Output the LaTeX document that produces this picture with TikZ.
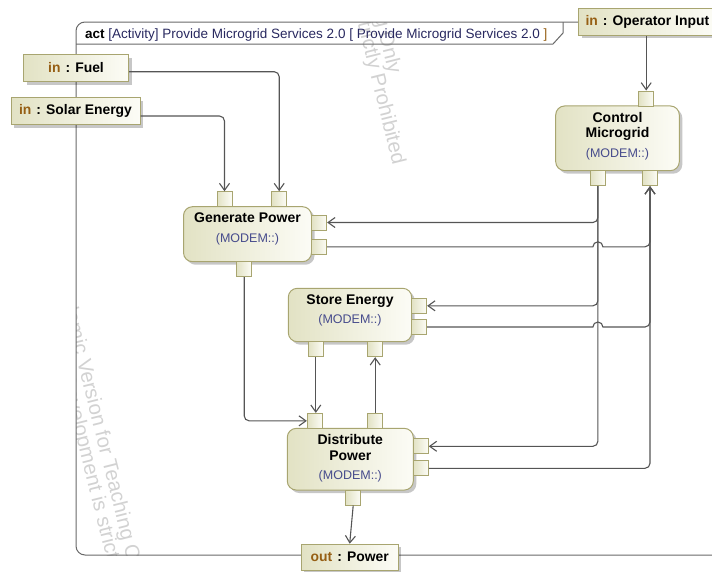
\documentclass[tikz,border=0pt]{standalone}
\usepackage{fontspec}
\setmainfont{Liberation Sans}
\usetikzlibrary{arrows.meta,shadows,calc}
\definecolor{actL}{RGB}{226,226,196}
\definecolor{actR}{RGB}{252,252,246}
\definecolor{actB}{RGB}{168,165,112}
\definecolor{lineC}{RGB}{85,85,85}
\definecolor{frameC}{RGB}{105,105,105}
\definecolor{modemC}{RGB}{70,75,140}
\definecolor{inC}{RGB}{150,95,20}
\definecolor{titleC}{RGB}{40,40,95}
\definecolor{wmC}{RGB}{210,210,210}
\newcommand{\mdm}{{\fontsize{12.5}{14}\selectfont\mdseries\color{modemC}(MODEM::)}}
\tikzset{
  shd/.style={drop shadow={shadow xshift=3pt, shadow yshift=-3pt, fill=black, opacity=0.22}},
  actbox/.style={draw=actB, line width=1pt, rounded corners=9pt, left color=actL, right color=actR, shd, inner sep=0pt},
  pinbox/.style={draw=actB, line width=0.9pt, left color=actL, right color=actR, minimum width=15pt, minimum height=15pt, inner sep=0pt},
  parbox/.style={draw=actB, line width=1pt, left color=actL, right color=actR, shd, inner sep=0pt, font=\fontsize{13.9}{15}\selectfont\bfseries},
  flow/.style={draw=lineC, line width=1.1pt, -{Straight Barb[length=7pt,width=10pt]}},
  acttext/.style={align=center, font=\fontsize{14}{15.4}\selectfont\bfseries, inner sep=0pt, anchor=north},
  wmtext/.style={text=wmC, font=\fontsize{20.5}{20.5}\selectfont, rotate=-76, inner sep=0pt},
}
\begin{document}
\begin{tikzpicture}[x=1pt,y=-1pt]
\clip (0,0) rectangle (712,571);
% watermark
\begin{scope}
\clip (76,555) -- (76,22) -- (712,22) -- (712,555) -- cycle;
\node[wmtext, anchor=base east] (wa1) at (389,75) {Academic Version for Teaching Only};
\node[wmtext, anchor=base west] (wa2) at ($(wa1.base west)+(-17.5,4.4)$) {Commercial Development is strictly Prohibited};
\node[wmtext, anchor=base west] (wb1) at (54,268) {Academic Version for Teaching Only};
\node[wmtext, anchor=base west] (wb2) at ($(wb1.base west)+(-21,-4)$) {Commercial Development is strictly Prohibited};
\end{scope}
% frame
\draw[frameC, line width=1pt, rounded corners=9pt] (730,555) -- (76,555) -- (76,22) -- (730,22);
\draw[frameC, line width=1pt] (76,44) -- (553,44) -- (563,33) -- (563,22);
\node[anchor=base west, inner sep=0pt, font=\fontsize{13.5}{15}\selectfont] (title) at (85,38)
  {\textbf{act} \textcolor{titleC}{[Activity] Provide Microgrid Services 2.0 [ Provide Microgrid Services 2.0 }\textcolor{inC}{]}};
% parameter nodes
\node[parbox, minimum width=105pt, minimum height=27pt] (fuel) at (76,68) {\textcolor{inC}{in}\hspace{5pt}: Fuel};
\node[parbox, minimum width=129pt, minimum height=27pt] (solar) at (75.5,111) {\textcolor{inC}{in}\hspace{5pt}: Solar Energy};
\node[parbox, anchor=west, minimum height=27pt, inner xsep=7pt] (op) at (578,21.7) {\textcolor{inC}{in}\hspace{5pt}: Operator Input};
\node[parbox, minimum width=97pt, minimum height=26pt] (pw) at (349.7,557.2) {\textcolor{inC}{out}\hspace{5pt}: Power};
% Generate Power
\node[actbox, minimum width=128pt, minimum height=55pt] (gp) at (247.5,234.2) {};
\node[acttext] (gpT) at ($(gp.north)+(0,6.5)$) {Generate Power\\[4pt]\mdm};
\node[pinbox] (gpt1) at (224.5,199.2) {};
\node[pinbox] (gpt2) at (279.2,199.2) {};
\node[pinbox] (gpr1) at (319.2,222.5) {};
\node[pinbox] (gpr2) at (319.2,246.8) {};
\node[pinbox] (gpb) at (244.2,269.2) {};
% Control Microgrid
\node[actbox, minimum width=123.6pt, minimum height=64.7pt] (cm) at (617.5,138.3) {};
\node[acttext] (cmT) at ($(cm.north)+(0,6.5)$) {Control\\Microgrid\\[4pt]\mdm};
\node[pinbox] (cmt) at (646.2,98.5) {};
\node[pinbox] (cmb1) at (597.9,178.2) {};
\node[pinbox] (cmb2) at (650,178.2) {};
% Store Energy
\node[actbox, minimum width=123.4pt, minimum height=53.4pt] (se) at (350,315) {};
\node[acttext] (seT) at ($(se.north)+(0,6.5)$) {Store Energy\\[4pt]\mdm};
\node[pinbox] (ser1) at (419.2,305.8) {};
\node[pinbox] (ser2) at (419.2,327) {};
\node[pinbox] (seb1) at (315.8,349.2) {};
\node[pinbox] (seb2) at (375.2,349.2) {};
% Distribute Power
\node[actbox, minimum width=126pt, minimum height=61.7pt] (dp) at (350.3,459.2) {};
\node[acttext] (dpT) at ($(dp.north)+(0,6.5)$) {Distribute\\Power\\[4pt]\mdm};
\node[pinbox] (dpt1) at (314.8,420.85) {};
\node[pinbox] (dpt2) at (375.2,420.85) {};
\node[pinbox] (dpr1) at (420.8,446.3) {};
\node[pinbox] (dpr2) at (420.8,468.3) {};
\node[pinbox] (dpb) at (353.2,497.55) {};
% flows
\draw[flow, rounded corners=5pt] ($(fuel.east)+(0,3.7)$) -| (gpt2.north);
\draw[flow, rounded corners=5pt] ($(solar.east)+(0,5)$) -| (gpt1.north);
\draw[flow] (op.south -| cmt.north) -- (cmt.north);
\draw[flow, rounded corners=5pt] (cmb1.south) |- (gpr1.east);
\draw[flow, rounded corners=5pt] (cmb1.south) |- (ser1.east);
\draw[flow, rounded corners=5pt] (cmb1.south) |- (dpr1.east);
\draw[flow] (gpr2.east) -- ($(gpr2.east -| cmb1.south)+(-5,0)$) arc[start angle=180, end angle=0, radius=5pt] -- ++(3,0) [rounded corners=5pt] -- (gpr2.east -| cmb2.south) -- (cmb2.south);
\draw[flow] (ser2.east) -- ($(ser2.east -| cmb1.south)+(-5,0)$) arc[start angle=180, end angle=0, radius=5pt] -- ++(3,0) [rounded corners=5pt] -- (ser2.east -| cmb2.south) -- (cmb2.south);
\draw[flow, rounded corners=5pt] (dpr2.east) -| (cmb2.south);
\draw[flow, rounded corners=5pt] (gpb.south) |- (dpt1.west);
\draw[flow] (seb1.south) -- (seb1.south |- dpt1.north);
\draw[flow] (dpt2.north) -- (seb2.south);
\draw[flow] (dpb.south) -- (pw.north);
\end{tikzpicture}
\end{document}
